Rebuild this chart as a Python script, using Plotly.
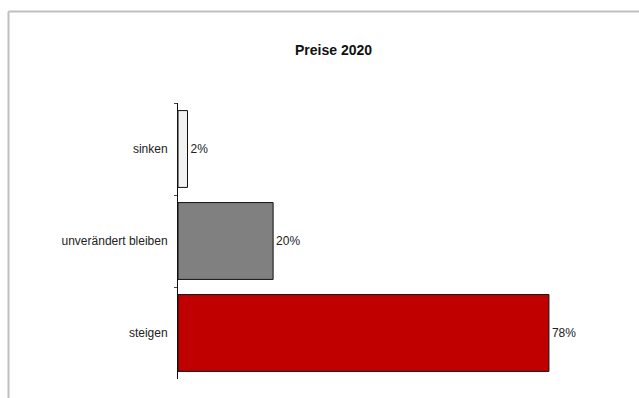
import plotly.graph_objects as go

categories = ["sinken", "unverändert bleiben", "steigen"]
values = [2, 20, 78]
labels = ["2%", "20%", "78%"]
colors = ["#f2f2f2", "#808080", "#c00000"]
title = "Preise 2020"

W, H = 639, 398
L, R, T, B = 178, 33, 103, 19
pw = W - L - R
ph = H - T - B


def px(xp):
    return (xp - L) / pw


def py(yp):
    return (H - B - yp) / ph


fig = go.Figure(go.Bar(
    y=categories, x=values, orientation="h",
    marker=dict(color=colors, line=dict(color="#111111", width=1)),
    width=0.835,
    text=labels, textposition="outside", cliponaxis=False,
    textfont=dict(family="Liberation Sans, Arial", size=12, color="#222222"),
))

fig.update_layout(
    width=W, height=H,
    margin=dict(l=L, r=R, t=T, b=B),
    paper_bgcolor="white", plot_bgcolor="white",
    showlegend=False,
    font=dict(family="Liberation Sans, Arial", size=12, color="#222222"),
    xaxis=dict(range=[0, 90], visible=False),
    yaxis=dict(
        categoryorder="array", categoryarray=categories,
        autorange="reversed",
        showline=True, linecolor="#111111", linewidth=1,
        ticks="outside", ticklen=3, tickcolor="#444444", tickson="boundaries",
        showgrid=False, zeroline=False,
        ticklabelstandoff=7,
        tickfont=dict(size=12, color="#222222"),
    ),
    bargap=0.165,
    annotations=[dict(
        text="<b>" + title + "</b>", x=px(333), y=py(50),
        xref="paper", yref="paper", xanchor="center", yanchor="middle",
        showarrow=False, font=dict(size=14, color="#111111"),
    )],
)

# outer frame (top and left gray border)
fig.add_shape(type="line", xref="paper", yref="paper",
              x0=px(8.5), x1=px(W + 5), y0=py(11.5), y1=py(11.5),
              line=dict(color="#c0c0c0", width=2))
fig.add_shape(type="line", xref="paper", yref="paper",
              x0=px(8.5), x1=px(8.5), y0=py(11.5), y1=py(H + 5),
              line=dict(color="#c0c0c0", width=2))

fig.write_html("out.html", config={"displayModeBar": False},
               post_script="document.body.style.margin='0px';document.body.style.overflow='hidden';")
